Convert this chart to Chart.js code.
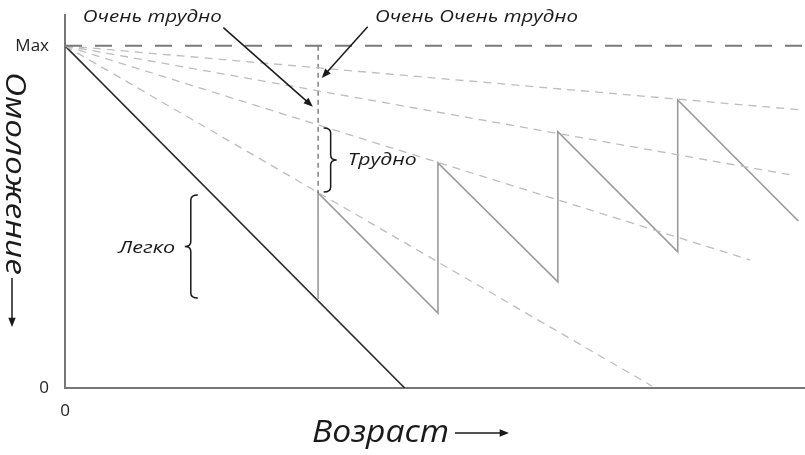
<!DOCTYPE html>
<html>
<head>
<meta charset="utf-8">
<script src="https://cdn.jsdelivr.net/npm/chart.js@4/dist/chart.umd.min.js"></script>
<style>
  html, body { margin: 0; padding: 0; background: #fff; }
  #wrap { width: 805px; height: 455px; }
</style>
</head>
<body>
<div id="wrap"><canvas id="c" width="805" height="455"></canvas></div>
<script>
// axis ticks
const xTickValues = [0];
const xTickLabels = ['0'];
const yTickValues = [0, 100];
const yTickLabels = ['0', 'Max'];

// "easy" path: straight decline from Max
const easyX = [0, 45.9];
const easyY = [100, 0];

// rejuvenation sawtooth
const sawX = [34.2, 34.2, 50.4, 50.4, 66.6, 66.6, 82.8, 82.8, 99.1];
const sawY = [26.0, 57.0, 21.9, 65.8, 31.0, 74.9, 39.8, 84.2, 48.8];

// fan of dashed trajectories from Max
const fanEndX = [99.3, 98.0, 92.6, 79.3];
const fanEndY = [81.3, 62.3, 37.4, 0.6];

const maxLevel = 100;
const barrierX = 34.2;
const barrierY = [100, 57.0];

const pts = (xs, ys) => xs.map((x, i) => ({ x, y: ys[i] }));

const FONT = '"Open Sans", "Noto Sans", sans-serif';
const INK = '#1a1a1a';

const datasets = [];
datasets.push({
  data: pts([0, 100], [maxLevel, maxLevel]),
  borderColor: '#7a7a7a', borderWidth: 2, borderDash: [17, 13],
});
fanEndX.forEach((x, i) => {
  datasets.push({
    data: pts([0, x], [maxLevel, fanEndY[i]]),
    borderColor: '#bdbdbd', borderWidth: 1.3, borderDash: [8, 6],
  });
});
datasets.push({
  data: pts([barrierX, barrierX], barrierY),
  borderColor: '#444', borderWidth: 1, borderDash: [5, 4],
});
datasets.push({
  data: pts(sawX, sawY),
  borderColor: '#9a9a9a', borderWidth: 1.6,
});
datasets.push({
  data: pts(easyX, easyY),
  borderColor: '#2a2a2a', borderWidth: 1.6,
});
datasets.forEach(d => {
  d.showLine = true; d.pointRadius = 0; d.tension = 0; d.fill = false;
});

// annotations, in data units (w = drawn width in px)
const notes = [
  { text: 'Очень трудно', x: 11.8, y: 108.3, size: 17, w: 139, align: 'center' },
  { text: 'Очень Очень трудно', x: 55.6, y: 108.3, size: 17, w: 203, align: 'center' },
  { text: 'Трудно', x: 38.2, y: 66.7, size: 17, w: 69, align: 'left' },
  { text: 'Легко', x: 14.9, y: 40.9, size: 17, w: 57, align: 'right' },
];
const arrows = [
  { x1: 21.4, y1: 105.3, x2: 33.5, y2: 82.2 },
  { x1: 40.9, y1: 105.6, x2: 34.7, y2: 90.6 },
];
const braces = [
  { x: 35.9, top: 76.0, bottom: 57.3, dir: 1 },
  { x: 17.0, top: 56.4, bottom: 26.3, dir: -1 },
];

// draw text stretched horizontally to a given width
function fitText(ctx, text, px, py, size, w, align) {
  ctx.font = `italic ${size}px ${FONT}`;
  const m = ctx.measureText(text).width;
  const sx = w / m;
  const left = align === 'center' ? px - w / 2 : align === 'right' ? px - w : px;
  ctx.save();
  ctx.translate(left, py);
  ctx.scale(sx, 1);
  ctx.textAlign = 'left';
  ctx.fillText(text, 0, 0);
  ctx.restore();
}

function arrow(ctx, x1, y1, x2, y2, head) {
  const a = Math.atan2(y2 - y1, x2 - x1);
  ctx.beginPath();
  ctx.moveTo(x1, y1);
  ctx.lineTo(x2 - Math.cos(a) * head * 0.8, y2 - Math.sin(a) * head * 0.8);
  ctx.stroke();
  ctx.beginPath();
  ctx.moveTo(x2, y2);
  ctx.lineTo(x2 - head * Math.cos(a - 0.38), y2 - head * Math.sin(a - 0.38));
  ctx.lineTo(x2 - head * Math.cos(a + 0.38), y2 - head * Math.sin(a + 0.38));
  ctx.closePath();
  ctx.fill();
}

function brace(ctx, sx, y1, y2, dir) {
  const tip = sx - dir * 7, point = sx + dir * 6, ym = (y1 + y2) / 2, r = 5;
  ctx.beginPath();
  ctx.moveTo(tip, y1);
  ctx.quadraticCurveTo(sx, y1, sx, y1 + r);
  ctx.lineTo(sx, ym - r);
  ctx.quadraticCurveTo(sx, ym, point, ym);
  ctx.quadraticCurveTo(sx, ym, sx, ym + r);
  ctx.lineTo(sx, y2 - r);
  ctx.quadraticCurveTo(sx, y2, tip, y2);
  ctx.stroke();
}

const annotate = {
  id: 'annotate',
  afterDraw(chart) {
    const { ctx, scales: { x, y } } = chart;
    ctx.save();
    ctx.fillStyle = INK;
    ctx.strokeStyle = INK;
    ctx.lineWidth = 1.5;
    ctx.textBaseline = 'middle';

    notes.forEach(n => fitText(ctx, n.text,
      x.getPixelForValue(n.x), y.getPixelForValue(n.y), n.size, n.w, n.align));
    arrows.forEach(a => arrow(ctx,
      x.getPixelForValue(a.x1), y.getPixelForValue(a.y1),
      x.getPixelForValue(a.x2), y.getPixelForValue(a.y2), 10));
    braces.forEach(b => brace(ctx, x.getPixelForValue(b.x),
      y.getPixelForValue(b.top), y.getPixelForValue(b.bottom), b.dir));

    // x title
    ctx.textBaseline = 'alphabetic';
    fitText(ctx, 'Возраст', 312, 442, 31, 137, 'left');
    arrow(ctx, 455, 433, 509, 433, 10);

    // y title, reading downward
    ctx.save();
    ctx.translate(14, 72);
    ctx.rotate(Math.PI / 2);
    ctx.textBaseline = 'middle';
    fitText(ctx, 'Омоложение', 0, 0, 28, 203, 'left');
    ctx.restore();
    arrow(ctx, 12, 278, 12, 327, 10);

    ctx.restore();
  }
};

new Chart(document.getElementById('c'), {
  type: 'scatter',
  data: { datasets },
  plugins: [annotate],
  options: {
    responsive: false,
    animation: false,
    events: [],
    layout: { padding: { top: 15, right: 0, left: 0, bottom: 0 } },
    plugins: { legend: { display: false }, tooltip: { enabled: false } },
    scales: {
      x: {
        type: 'linear', min: 0, max: 100,
        grid: { display: false, drawTicks: false },
        border: { display: true, color: '#777', width: 2 },
        afterBuildTicks: s => { s.ticks = xTickValues.map(v => ({ value: v })); },
        afterFit: s => { s.height = 67; s.paddingLeft = 0; s.paddingRight = 0; },
        ticks: {
          padding: 13, color: '#222', maxRotation: 0,
          font: { family: FONT, size: 17 },
          callback: v => xTickLabels[xTickValues.indexOf(v)],
        },
      },
      y: {
        type: 'linear', min: 0, max: 109,
        grid: { display: false, drawTicks: false },
        border: { display: true, color: '#777', width: 2 },
        afterBuildTicks: s => { s.ticks = yTickValues.map(v => ({ value: v })); },
        afterFit: s => { s.width = 65; s.paddingTop = 0; s.paddingBottom = 0; },
        ticks: {
          padding: 16, color: '#222',
          font: { family: FONT, size: 17 },
          callback: v => yTickLabels[yTickValues.indexOf(v)],
        },
      },
    },
  },
});
</script>
</body>
</html>
